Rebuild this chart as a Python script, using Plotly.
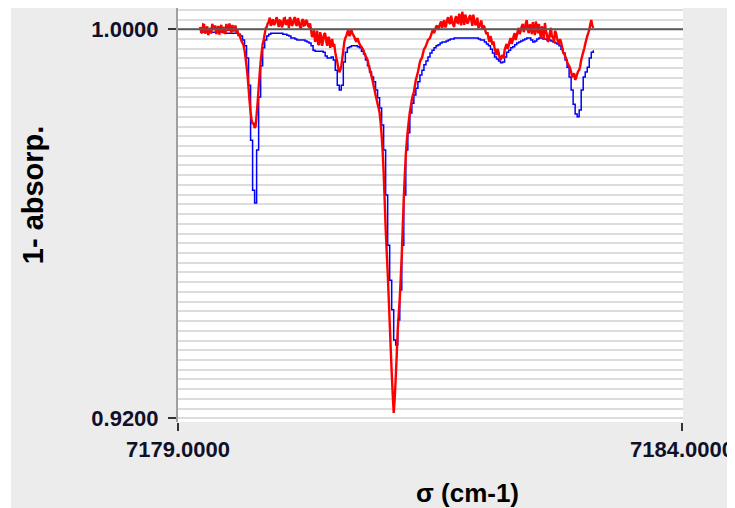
import numpy as np
import plotly.graph_objects as go

# model grid (cm-1), 0.02 cm-1 step; observed grid 0.01 cm-1 step
wn_model = np.round(7179.22 + 0.02 * np.arange(196), 2)
wn_obs = np.round(7179.22 + 0.01 * np.arange(391), 2)

# absorption in units of 1e-4 (plotted as 1 - absorption)
absorp_model = [
    6, 6, 6, 6, 6, 6, 6, 6, 6, 6, 6, 6,
    8, 8, 8, 8, 8, 8, 8,
    10, 14, 22, 34, 59, 115, 228, 331, 357, 248, 139, 75, 38, 22, 14, 10,
    8, 8, 8, 8, 8, 8,
    10, 10, 12, 14, 18, 18, 20, 22, 22, 22, 22, 24, 26, 28, 34, 43,
    45, 45, 45, 45, 47, 55, 59, 59, 57, 63, 84, 115, 125, 115, 67, 47, 38, 36,
    34, 34, 34, 36, 38, 45, 51, 63, 75, 88, 98, 108, 125, 141, 162, 197, 248,
    341, 444, 516, 577, 639, 649, 598, 536, 444, 341, 248, 213, 172, 152, 135,
    121, 108, 94, 84, 73, 65, 57, 49, 43, 38, 34, 32, 28, 26, 26, 24, 22, 20, 20,
    18, 18, 18, 18, 18, 18, 18, 18, 18, 18, 18, 18,
    20, 22, 22, 26, 30, 34, 41, 49, 57, 61, 65, 69, 67, 57, 47, 43, 38, 36, 32,
    28, 26, 24, 22, 20, 18, 18, 22, 26, 24, 20, 18, 18, 20, 20, 22, 22, 24, 26,
    28, 30, 34, 41, 49, 63, 78, 98, 125, 154, 174, 180, 166, 125, 98, 88, 78,
    59, 47, 43,
]

# observed spectrum, samples at 7179.22, 7179.24, ...
absorp_obs_even = [
    -5, 8, -9, 3, 12, -3, -11, 1, 10, -7, -1, 8, -5, -11, 3, -1, -9, 1, 8,
    14, 18, 28, 43, 75, 121, 170, 195, 203, 176, 121, 67, 30, 10, -5,
    -15, -7, -21, -11, -25, -5, -17, -9, -23, -13, -3, -19, -11, -25, -7, -15,
    -1, -21, -9, -17, -5,
    1,
    10, 26, 3, 32, 14, 22, 8, 34, 18, 28, 36,
    47, 67, 88, 75, 43, 18, 6, 14, 1, 12, 22, 18, 30, 36, 43, 55, 63, 80, 96,
    115, 135, 153, 172, 217, 294, 409, 499, 602, 705, 789, 717, 618, 553, 464,
    347, 258, 207, 170, 145, 129, 104, 88, 67, 59, 41, 34, 22, 18, 6, 8, -5, 1,
    -11,
    -3, -19, -7, -25, -11, -17, -5, -27, -13, -21, -36, -9, -23, -15, -29, -7,
    -19, -11, -3, -13,
    1, -5, 10, 18, 14, 32, 38, 53, 47, 63, 53, 43, 30, 34, 18, 24, 8, 14, -3,
    3, -11, -1, -19, 8, -7, -15, 12, -5, -11, 18, 1, -13, 10, 22, -3, 14, 3,
    18, 30, 26, 47, 55, 67, 75, 88, 96, 104, 92, 84, 63, 47, 30, 14, 1, -19, -3,
]

# observed spectrum, samples at 7179.23, 7179.25, ...
absorp_obs_odd = [
    6, -10, 9, -6, 4, 9, -4, -8, 3, 11, -9, 2, 10, -3, -12, 7, 4, -8, 2,
    10, 24, 33, 58, 96, 148, 186, 192, 199, 150, 92, 48, 22, -2, -12,
    -24, -12, -9, -20, -13, -18, -4, -22, -9, -20, -25, -7, -21, -10, -23, -5,
    -18, -8, -19, -7, -12,
    16,
    2, 20, 30, 6, 34, 10, 24, 16, 38, 20, 30,
    58, 80, 84, 60, 26, 14, 2, 10, 8, 16, 26, 24, 34, 40, 50, 58, 72, 88, 105,
    125, 144, 162, 192, 250, 350, 455, 550, 655, 750, 760, 670, 585, 510, 405,
    300, 230, 188, 158, 136, 116, 96, 78, 62, 50, 38, 28, 20, 12, 0, 2, -8, -4,
    -16,
    -12, -4, -20, -14, -28, -9, -22, -14, -32, -8, -24, -30, -12, -26, -18, -30,
    -9, -24, -6, -18,
    -8, 4, 6, 26, 22, 25, 46, 40, 58, 56, 60, 36, 40, 24, 30, 14, 22, 4, 10,
    -6, 6, -12, 2, -10, 10, -2, -16, 8, 4, -6, 20, 4, 26, 6, 16, 28, 8,
    26, 20, 36, 50, 60, 72, 80, 98, 90, 100, 86, 76, 55, 40, 22, 8, -10, -8,
]

absorp_obs = np.empty(len(wn_obs))
absorp_obs[0::2] = absorp_obs_even
absorp_obs[1::2] = absorp_obs_odd

y_model = 1 - np.array(absorp_model) * 1e-4
y_obs = 1 - absorp_obs * 1e-4

fig = go.Figure()
fig.add_trace(go.Scatter(x=wn_model, y=y_model, mode='lines', line_shape='hv',
                         line=dict(color='#0000ff', width=1.5, simplify=False)))
fig.add_trace(go.Scatter(x=wn_obs, y=y_obs, mode='lines',
                         line=dict(color='#ff0000', width=2.4, simplify=False)))

# page body adds an 8px white border, so the figure is 8px smaller
fig.update_layout(
    width=727,
    height=500,
    margin=dict(l=170, r=52, t=0, b=86),
    paper_bgcolor='#ececec',
    plot_bgcolor='white',
    showlegend=False,
    font=dict(family='Liberation Sans, Arial, sans-serif', size=22, color='#000000'),
    shapes=[
        dict(type='rect', xref='paper', yref='paper', x0=-0.34, x1=-0.3307, y0=-0.21, y1=1.01,
             fillcolor='white', line_width=0, layer='below'),
        dict(type='line', xref='x domain', yref='y', x0=0, x1=1, y0=1.0, y1=1.0,
             line=dict(color='#5a5a5a', width=2)),
    ],
    annotations=[
        dict(text='<b>1- absorp.</b>', xref='paper', yref='paper', x=-0.287, y=0.548,
             xanchor='center', yanchor='middle', textangle=-90, showarrow=False,
             font=dict(size=29)),
        dict(text='<b>σ (cm-1)</b>', xref='paper', yref='paper', x=0.574, y=-0.1715,
             xanchor='center', yanchor='middle', showarrow=False, font=dict(size=26)),
    ],
)

fig.update_xaxes(range=[7179, 7184.01], tickvals=[7179, 7184], tickformat='.4f',
                 tickfont=dict(size=22, weight='bold', color='#101028'),
                 showgrid=False, zeroline=False, showline=False,
                 ticks='outside', ticklen=8, tickwidth=2, tickcolor='#333333')
fig.update_yaxes(range=[0.91924, 1.00438], tickvals=[0.92, 1.0], tickformat='.4f',
                 tickfont=dict(size=22, weight='bold', color='#101028'),
                 showgrid=False, zeroline=False, showline=True, linecolor='#a0a0a0', linewidth=2,
                 ticks='outside', ticklen=8, tickwidth=2, tickcolor='#333333',
                 ticklabelstandoff=5, minor=dict(dtick=0.002, showgrid=True,
                                                gridcolor='#dcdcdc', gridwidth=1.5))

fig.write_html("out.html")
